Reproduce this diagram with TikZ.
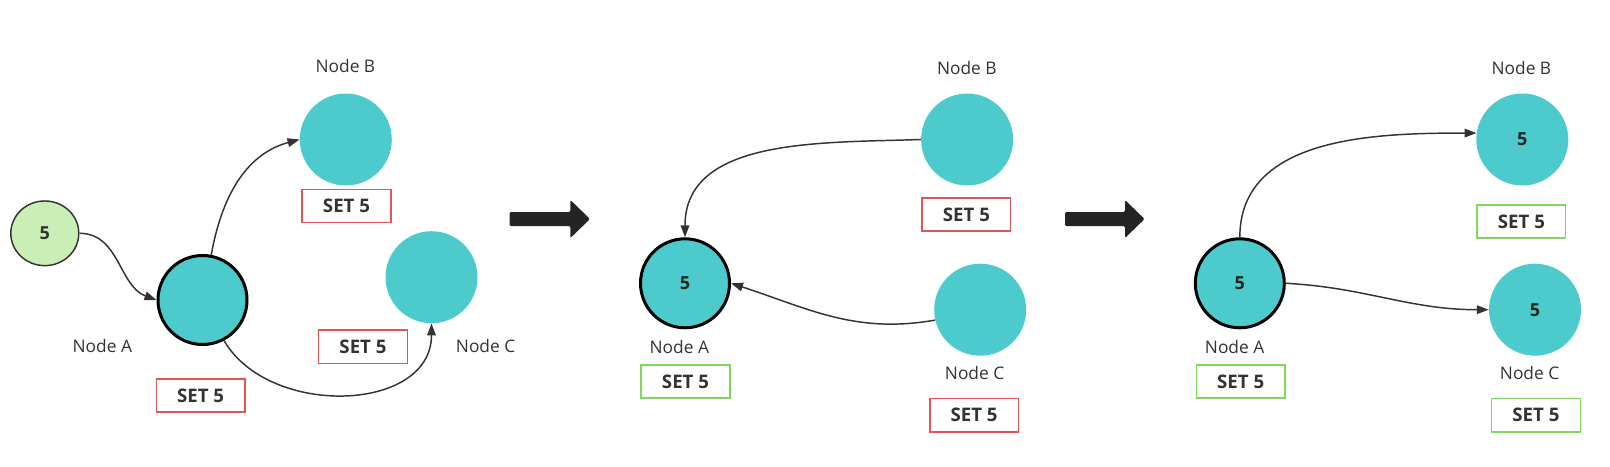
\documentclass[tikz,border=0pt]{standalone}
\usepackage{fontspec}
\setmainfont{Open Sans}
\usetikzlibrary{calc, positioning, arrows.meta, shapes.geometric}
\definecolor{teal1}{HTML}{4DCBCC}
\definecolor{lime1}{HTML}{C9EEB6}
\definecolor{redb}{HTML}{E55454}
\definecolor{greenb}{HTML}{7DD95A}
\definecolor{ink}{HTML}{333333}
\definecolor{bigarrow}{HTML}{222426}

\begin{document}
\begin{tikzpicture}[x=0.75pt, y=-0.75pt,
  ele/.style={fill=teal1, circle, minimum size=69pt, inner sep=0pt, text=black!85, font=\fontsize{13.5}{15}\selectfont\bfseries},
  cur/.style={ele, draw=black, line width=2.25pt, minimum size=66.75pt},
  src/.style={fill=lime1, draw=ink, line width=1.1pt, ellipse, minimum width=51pt, minimum height=48.5pt, inner sep=0pt, text=ink, font=\fontsize{13.5}{15}\selectfont\bfseries},
  lbl/.style={text=ink, font=\fontsize{13}{15}\selectfont},
  setr/.style={draw=redb, line width=1.1pt, minimum width=66.5pt, minimum height=25pt, inner sep=0pt, text=ink, font=\fontsize{14}{16}\selectfont\bfseries},
  setg/.style={setr, draw=greenb}]
  \useasboundingbox (0,0) rectangle (1610,467);

  % panel 1
  \node[src] (g) at (44.8,233.3) {5};
  \node[cur] (a1) at (202.5,300) {};
  \node[ele] (b1) at (345.8,139.5) {};
  \node[ele] (c1) at (431.5,277.2) {};
  \node[lbl] (la1) at (102.3,346) {Node A};
  \node[lbl] (lb1) at (345.4,66) {Node B};
  \node[lbl] (lc1) at (485.6,346) {Node C};
  \node[setr] (sa1) at (200.6,395.5) {SET 5};
  \node[setr] (sb1) at (346.5,206) {SET 5};
  \node[setr] (sc1) at (363,346.7) {SET 5};

  % panel 2
  \node[cur] (a2) at (685,283.3) {5};
  \node[ele] (b2) at (967.1,139.5) {};
  \node[ele] (c2) at (980.2,309.7) {};
  \node[lbl] (la2) at (679.3,346.7) {Node A};
  \node[lbl] (lb2) at (966.8,67.7) {Node B};
  \node[lbl] (lc2) at (974.6,372.7) {Node C};
  \node[setg] (sa2) at (685.5,381.5) {SET 5};
  \node[setr] (sb2) at (966.4,214.5) {SET 5};
  \node[setr] (sc2) at (974.1,415.3) {SET 5};

  % panel 3
  \node[cur] (a3) at (1239.8,283.3) {5};
  \node[ele] (b3) at (1522.3,139.5) {5};
  \node[ele] (c3) at (1535,309.7) {5};
  \node[lbl] (la3) at (1234.6,346.7) {Node A};
  \node[lbl] (lb3) at (1521.4,67.7) {Node B};
  \node[lbl] (lc3) at (1529.6,372.7) {Node C};
  \node[setg] (sa3) at (1240.7,381.5) {SET 5};
  \node[setg] (sb3) at (1521.4,221.5) {SET 5};
  \node[setg] (sc3) at (1535.9,415.3) {SET 5};

  % big arrows between the panels
  \fill[bigarrow, rounded corners=1pt] (509.6,212) -- (570.4,212) -- (570.4,200) -- (590,219) -- (570.4,238) -- (570.4,226) -- (509.6,226) -- cycle;
  \fill[bigarrow, rounded corners=1pt] (1065,212) -- (1125,212) -- (1125,200) -- (1144.6,219) -- (1125,238) -- (1125,226) -- (1065,226) -- cycle;

  \draw[-{Triangle[length=9pt, width=6.5pt]}, ink, line width=1.1pt] (g.east) to[out=0, in=160] (a1.west);
  \draw[-{Triangle[length=9pt, width=6.5pt]}, ink, line width=1.1pt] (a1.79) to[out=80, in=195] (b1.west);
  \draw[-{Triangle[length=9pt, width=6.5pt]}, ink, line width=1.1pt] (a1.-62) to[out=-60, in=-90, looseness=1.1] (c1.south);

  \draw[-{Triangle[length=9pt, width=6.5pt]}, ink, line width=1.1pt] (b2.west) to[out=182, in=90] (a2.north);
  \draw[-{Triangle[length=9pt, width=6.5pt]}, ink, line width=1.1pt] (c2.193) to[out=190, in=-18] (a2.east);

  \draw[-{Triangle[length=9pt, width=6.5pt]}, ink, line width=1.1pt] (a3.north) to[out=90, in=180] (b3.172);
  \draw[-{Triangle[length=9pt, width=6.5pt]}, ink, line width=1.1pt] (a3.east) to[out=-3, in=180] (c3.west);
\end{tikzpicture}
\end{document}
